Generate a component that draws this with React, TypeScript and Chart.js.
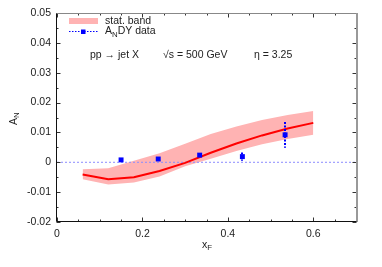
import React, { useEffect, useRef } from "react";
import { Chart, registerables } from "chart.js";

Chart.register(...registerables);

// Theory curve knots (x_F) and values
const xKnots = [0.06, 0.12, 0.18, 0.24, 0.30, 0.36, 0.42, 0.48, 0.54, 0.60];
const curveVals = [-0.0041, -0.0057, -0.0050, -0.0029, -0.0002, 0.0032, 0.0063, 0.0090, 0.0113, 0.0132];
const bandUpper = [-0.0023, -0.0020, 0.0005, 0.0030, 0.0062, 0.0095, 0.0120, 0.0142, 0.0158, 0.0172];
const bandLower = [-0.0057, -0.0074, -0.0068, -0.0048, -0.0013, 0.0012, 0.0038, 0.0060, 0.0078, 0.0092];

// ANDY data points
const dataX = [0.15, 0.237, 0.334, 0.434, 0.534];
const dataY = [0.0008, 0.0011, 0.0024, 0.0019, 0.0092];
const dataErr = [0.0003, 0.0004, 0.0004, 0.0014, 0.0043];

// Axes
const xMin = 0, xMax = 0.7;
const yMin = -0.02, yMax = 0.05;
const xMajor = [0, 0.2, 0.4, 0.6];
const xMinorStep = 0.05;
const yMajorStep = 0.01;
const yMinorStep = 0.005;

const FONT = "Liberation Sans, Arial, Helvetica, sans-serif";
const TEXT = "#222";

function drawSub(ctx: CanvasRenderingContext2D, main: string, sub: string, rest: string, x: number, y: number, size: number) {
  ctx.font = `${size}px ${FONT}`;
  ctx.textBaseline = "middle";
  ctx.textAlign = "left";
  ctx.fillText(main, x, y);
  let cx = x + ctx.measureText(main).width;
  ctx.font = `${size * 0.75}px ${FONT}`;
  ctx.fillText(sub, cx, y + size * 0.3);
  cx += ctx.measureText(sub).width;
  ctx.font = `${size}px ${FONT}`;
  ctx.fillText(rest, cx, y);
}

const framePlugin = {
  id: "frame",
  beforeDatasetDraw(chart: any, args: any) {
    // error bars drawn just before the data-point dataset
    if (args.meta.label !== "ANDY data") return;
    const ctx = chart.ctx as CanvasRenderingContext2D;
    const xs = chart.scales.x;
    const ys = chart.scales.y;
    ctx.save();
    ctx.strokeStyle = "#0000ff";
    ctx.lineWidth = 2;
    ctx.setLineDash([2, 1.5]);
    dataX.forEach((xv, i) => {
      const px = Math.round(xs.getPixelForValue(xv));
      ctx.beginPath();
      ctx.moveTo(px, ys.getPixelForValue(dataY[i] + dataErr[i]));
      ctx.lineTo(px, ys.getPixelForValue(dataY[i] - dataErr[i]));
      ctx.stroke();
    });
    ctx.restore();
  },
  afterDraw(chart: any) {
    const ctx = chart.ctx as CanvasRenderingContext2D;
    const { left, right, top, bottom } = chart.chartArea;
    const xs = chart.scales.x;
    const ys = chart.scales.y;
    const L = Math.round(left) - 0.5;
    const R = Math.round(right) + 0.5;
    const T = Math.round(top) + 0.5;
    const B = Math.round(bottom) - 0.5;
    ctx.save();
    // ticks
    ctx.lineWidth = 1;
    ctx.strokeStyle = "#333";
    const nX = Math.round((xMax - xMin) / xMinorStep);
    for (let i = 0; i <= nX; i++) {
      const v = xMin + i * xMinorStep;
      const isMajor = xMajor.some((m) => Math.abs(m - v) < 1e-9);
      const len = isMajor ? 4 : 2;
      const px = Math.round(xs.getPixelForValue(v)) + 0.5;
      ctx.beginPath();
      ctx.moveTo(px, B);
      ctx.lineTo(px, B - len);
      ctx.moveTo(px, T);
      ctx.lineTo(px, T + len);
      ctx.stroke();
    }
    const nY = Math.round((yMax - yMin) / yMinorStep);
    for (let i = 0; i <= nY; i++) {
      const v = yMin + i * yMinorStep;
      const isMajor = i % Math.round(yMajorStep / yMinorStep) === 0;
      const len = isMajor ? 4 : 2;
      const py = Math.round(ys.getPixelForValue(v)) + 0.5;
      ctx.beginPath();
      ctx.moveTo(L, py);
      ctx.lineTo(L + len, py);
      ctx.moveTo(R, py);
      ctx.lineTo(R - len, py);
      ctx.stroke();
    }
    // frame
    ctx.strokeStyle = "#888";
    ctx.lineWidth = 1;
    ctx.beginPath();
    ctx.moveTo(L, T);
    ctx.lineTo(R, T);
    ctx.stroke();
    ctx.strokeStyle = "#999";
    ctx.lineWidth = 2;
    ctx.beginPath();
    ctx.moveTo(R + 0.5, T - 0.5);
    ctx.lineTo(R + 0.5, B + 0.5);
    ctx.stroke();
    ctx.strokeStyle = "#111";
    ctx.lineWidth = 1;
    ctx.beginPath();
    ctx.moveTo(L, T);
    ctx.lineTo(L, B);
    ctx.lineTo(R, B);
    ctx.stroke();

    // legend
    ctx.fillStyle = "#ffb3b3";
    ctx.fillRect(69, 18, 29, 6);
    ctx.fillStyle = TEXT;
    ctx.font = `10.5px ${FONT}`;
    ctx.textBaseline = "middle";
    ctx.textAlign = "left";
    ctx.fillText("stat. band", 105, 21);
    ctx.strokeStyle = "#0000ff";
    ctx.lineWidth = 1.2;
    ctx.setLineDash([1.5, 1.5]);
    ctx.beginPath();
    ctx.moveTo(69, 31.5);
    ctx.lineTo(98, 31.5);
    ctx.stroke();
    ctx.setLineDash([]);
    ctx.fillStyle = "#0000ff";
    ctx.fillRect(81, 29.5, 4.5, 4.5);
    ctx.fillStyle = TEXT;
    drawSub(ctx, "A", "N", "DY data", 105, 31.5, 10.5);

    // annotation
    ctx.font = `10.5px ${FONT}`;
    ctx.fillText("pp \u2192 jet X", 90, 55);
    ctx.fillText("\u221As = 500 GeV", 163, 55);
    ctx.fillText("\u03B7 = 3.25", 254, 55);

    // axis titles
    ctx.save();
    ctx.translate(14, 118);
    ctx.rotate(-Math.PI / 2);
    drawSub(ctx, "A", "N", "", -7, 0, 10.5);
    ctx.restore();
    ctx.fillStyle = TEXT;
    drawSub(ctx, "x", "F", "", 202, 245, 10.5);
    ctx.restore();
  },
};

export default function App() {
  const ref = useRef<HTMLCanvasElement | null>(null);
  useEffect(() => {
    document.body.style.margin = "0";
    const canvas = ref.current!;
    const chart = new Chart(canvas, {
      type: "line",
      data: {
        datasets: [
          {
            label: "band upper",
            order: 10,
            data: xKnots.map((x, i) => ({ x, y: bandUpper[i] })),
            borderWidth: 0,
            pointRadius: 0,
            fill: "+1",
            backgroundColor: "#ffb3b3",
            borderColor: "rgba(0,0,0,0)",
          },
          {
            label: "band lower",
            order: 9,
            data: xKnots.map((x, i) => ({ x, y: bandLower[i] })),
            borderWidth: 0,
            pointRadius: 0,
            fill: false,
            borderColor: "rgba(0,0,0,0)",
          },
          {
            label: "zero",
            order: 5,
            data: [{ x: xMin, y: 0 }, { x: xMax, y: 0 }],
            borderColor: "#8c8cff",
            borderWidth: 1,
            borderDash: [2, 2],
            pointRadius: 0,
            fill: false,
          },
          {
            label: "curve",
            order: 2,
            data: xKnots.map((x, i) => ({ x, y: curveVals[i] })),
            borderColor: "#ff0000",
            borderWidth: 2,
            pointRadius: 0,
            fill: false,
          },
          {
            label: "ANDY data",
            order: 1,
            data: dataX.map((x, i) => ({ x, y: dataY[i] })),
            showLine: false,
            fill: false,
            pointStyle: "rect",
            pointRadius: 3.5,
            pointBackgroundColor: "#0000ff",
            pointBorderColor: "#0000ff",
            pointBorderWidth: 0,
            borderColor: "#0000ff",
            backgroundColor: "#0000ff",
          },
        ],
      },
      options: {
        animation: false,
        responsive: false,
        maintainAspectRatio: false,
        layout: { padding: { top: 13, right: 26, left: 0, bottom: 0 } },
        plugins: { legend: { display: false }, tooltip: { enabled: false } },
        scales: {
          x: {
            type: "linear",
            min: xMin,
            max: xMax,
            grid: { display: false, drawTicks: false },
            border: { display: false },
            ticks: {
              padding: 6,
              color: TEXT,
              font: { family: FONT, size: 10.5 },
              maxRotation: 0,
              callback: (v: any) => `${+Number(v).toFixed(2)}`,
            },
            afterBuildTicks: (s: any) => {
              s.ticks = xMajor.map((v) => ({ value: v }));
            },
            afterFit: (s: any) => {
              s.height = 45;
            },
          },
          y: {
            type: "linear",
            min: yMin,
            max: yMax,
            grid: { display: false, drawTicks: false },
            border: { display: false },
            ticks: {
              stepSize: yMajorStep,
              padding: 6,
              color: TEXT,
              font: { family: FONT, size: 10.5 },
              callback: (v: any) => `${+Number(v).toFixed(2)}`,
            },
            afterFit: (s: any) => {
              s.width = 57;
            },
          },
        },
      },
      plugins: [framePlugin],
    } as any);
    return () => chart.destroy();
  }, []);
  return (
    <div style={{ width: 382, height: 267, background: "#fff" }}>
      <canvas ref={ref} width={382} height={267} style={{ display: "block" }} />
    </div>
  );
}
